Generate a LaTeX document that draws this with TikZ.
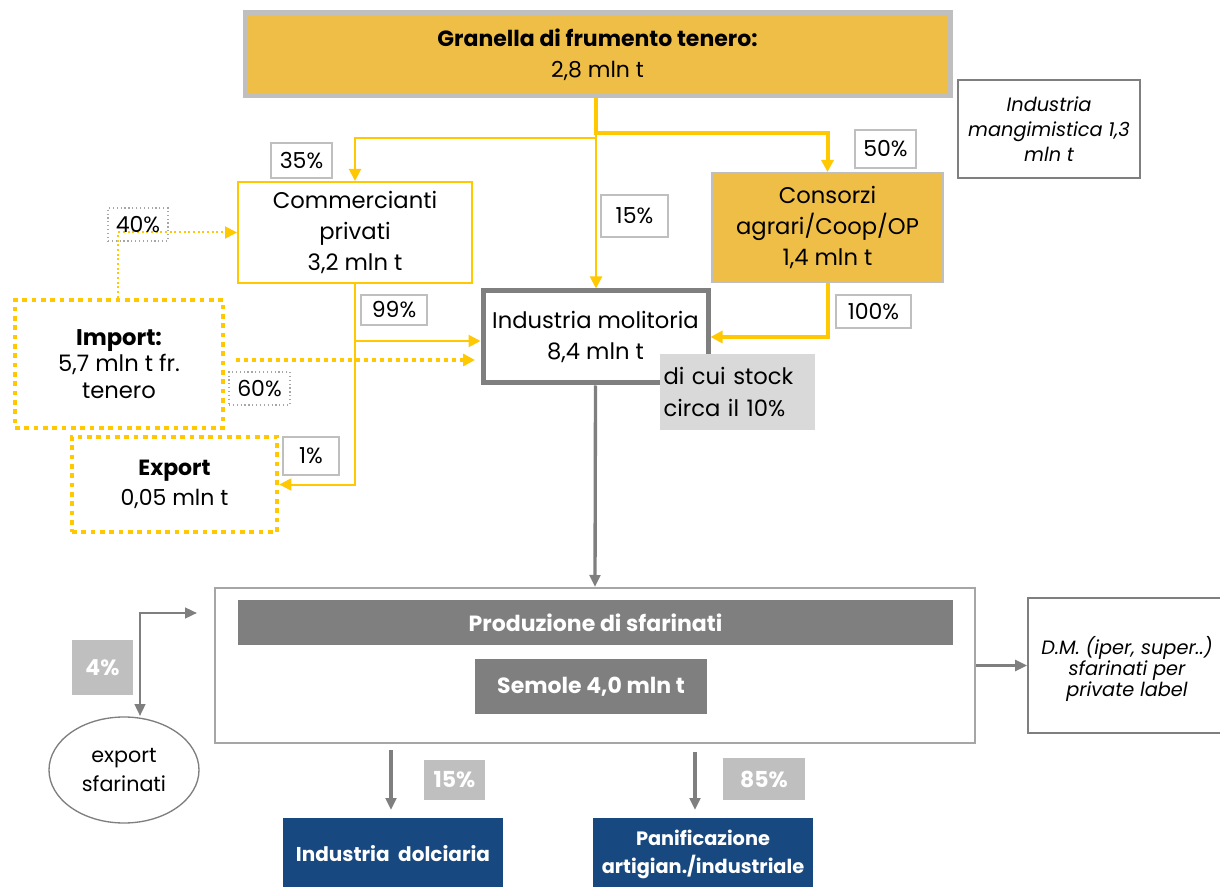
\documentclass[tikz,border=0pt]{standalone}
\usepackage{fontspec}
\setmainfont{Poppins}
\usetikzlibrary{arrows.meta,shapes.geometric,backgrounds}
\definecolor{gold}{HTML}{EFBE47}
\definecolor{yel}{HTML}{FFC800}
\definecolor{lgray}{HTML}{BFBFBF}
\definecolor{mgray}{HTML}{A6A6A6}
\definecolor{dgray}{HTML}{7F7F7F}
\definecolor{sgray}{HTML}{D9D9D9}
\definecolor{navy}{HTML}{17487F}
\newcommand\fz[2]{\fontsize{#1}{#2}\selectfont}
\tikzset{
  sz/.style 2 args={minimum width={#1*0.75pt}, minimum height={#2*0.75pt}},
  bx/.style={inner sep=0pt, align=center, font=\fz{17}{23}},
  pct/.style={draw=lgray, line width=1.5pt, fill=white, inner sep=0pt, font=\fz{16.5}{18}},
  dpct/.style={draw=gray!70, line width=0.9pt, dotted, inner sep=0pt, font=\fz{16.5}{18}},
  gpct/.style={fill=lgray, inner sep=0pt, text=white, font=\bfseries\fz{16.5}{18}},
  ytip/.style={-{Triangle[length=9pt,width=9pt]}},
  ythin/.style={draw=yel, line width=1.5pt, ytip},
  ythick/.style={draw=yel, line width=3pt, ytip},
  garr/.style={draw=dgray, line width=2.5pt, -{Triangle[length=9pt,width=8pt]}},
  ydotbox/.style={draw=yel, line width=3.5pt, dash pattern=on 3.5pt off 3.5pt, fill=white},
}
\begin{document}
\begin{tikzpicture}[x=0.75pt,y=-0.75pt]
\useasboundingbox (0,0) rectangle (1220,887);
\clip (0,0) rectangle (1220,887);

% nodes
\node[bx, sz={705}{83}, draw=lgray, line width=3.75pt, fill=gold, font=\fz{16.5}{23}] (gr) at (597.5,54.5)
  {\textbf{Granella di frumento tenero:}\\2,8 mln t};
\node[bx, sz={182}{98}, draw=dgray, line width=1.2pt, font=\itshape\fz{14.5}{18.75}] (mang) at (1049,129)
  {Industria\\mangimistica 1,3\\mln t};
\node[pct, sz={61}{35}] (p35) at (301.5,160.5) {35\%};
\node[bx, sz={234}{101}, draw=yel, line width=1.5pt, fill=white] (comm) at (355,232.5)
  {Commercianti\\privati\\3,2 mln t};
\node[pct, sz={67}{42}] (p15a) at (634.5,216) {15\%};
\node[pct, sz={61}{38}] (p50) at (885.5,149) {50\%};
\node[bx, sz={231}{109}, draw=lgray, line width=1.5pt, fill=gold] (cons) at (827.5,227.5)
  {Consorzi\\agrari/Coop/OP\\1,4 mln t};
\node[pct, sz={75}{33}] (p100) at (873.5,311.5) {100\%};
\node[bx, sz={225}{92}, draw=dgray, line width=3.75pt, fill=white] (mol) at (595.5,337)
  {Industria molitoria\\8,4 mln t};
\node[bx, sz={155}{76}, fill=sgray, align=left, text width={148*0.75pt}, font=\fz{17}{24}] (stock) at (737.5,392)
  {di cui stock\\circa il 10\%};
\node[pct, sz={66}{30}] (p99) at (394,310) {99\%};
\node[bx, sz={208}{128}, ydotbox, font=\fz{17}{20}] (imp) at (119,364)
  {\textbf{Import:}\\5,7 mln t fr.\\tenero};
\node[dpct, sz={60}{33}] (p40) at (138,224.5) {40\%};
\node[dpct, sz={61}{33}] (p60) at (259.5,388.5) {60\%};
\node[bx, sz={205}{95}, ydotbox, font=\fz{16.5}{22}] (exp) at (174.5,484.5)
  {\textbf{Export}\\0,05 mln t};
\node[pct, sz={56}{38}] (p1) at (311,456) {1\%};

\node[bx, sz={760}{155}, draw=mgray, line width=1.5pt, fill=white] (prod) at (595,665.5) {};
\node[bx, sz={715}{45}, fill=dgray, text=white, font=\bfseries\fz{16.5}{18}] (sfar) at (595.5,622.5) {Produzione di sfarinati};
\node[bx, sz={232}{55}, fill=dgray, text=white, font=\bfseries\fz{16.5}{18}] (sem) at (591,686.5) {Semole 4,0 mln t};
\node[bx, sz={212}{135}, draw=dgray, line width=1.2pt, fill=white] (dm) at (1134,665.5) {};
\node[bx, font=\itshape\fz{14.5}{16}] (dmt) at (1127,669) {D.M. (iper, super..)\\sfarinati per\\private label};
\node[gpct, sz={61}{55}] (p4) at (102.5,667.5) {4\%};
\node[bx, ellipse, sz={150}{106}, draw=dgray, line width=1pt, fill=white, font=\fz{15.5}{22}] (ell) at (124,770) {export\\sfarinati};
\node[gpct, sz={61}{40}] (p15b) at (454.5,780) {15\%};
\node[bx, sz={220}{72}, fill=navy, text=white, font=\bfseries\fz{15}{21}] (dol) at (393,854) {Industria\ \ dolciaria};
\node[gpct, sz={82}{42}] (p85) at (764,779) {85\%};
\node[bx, sz={220}{72}, fill=navy, text=white, font=\bfseries\fz{14.5}{21}] (pan) at (703,854) {Panificazione\\artigian./industriale};

% connectors
\begin{scope}[on background layer]
\coordinate (j1) at (596,133);
\coordinate (j2) at (596,138);
\coordinate (j3) at (355,341);
\draw[ythick] (gr.south -| j1) -- (j1) -| (cons.north);
\draw[ythin] (gr.south -| j1) -- (j1 |- mol.north);
\draw[ythin] (j2) -| (comm.north);
\draw[ythick] (cons.south) |- (mol.east);
\draw[ythin] (comm.south) |- (exp.east);
\draw[ythin] (j3) -- (j3 -| mol.west);
\draw[draw=yel, line width=1.5pt, dotted, ytip] (imp.north -| 118,0) |- (comm.west);
\coordinate (d1) at (236,360);
\coordinate (d2) at (475,360);
\draw[draw=yel, line width=3pt, dash pattern=on 3pt off 3pt, ytip] (d1) -- (d2);
\draw[garr] (mol.south) -- (prod.north);
\draw[garr] (prod.east) -- (dm.west);
\coordinate (e1) at (197,613);
\coordinate (e2) at (140,716);
\draw[draw=dgray, line width=1.8pt, {Triangle[length=9pt,width=8pt]}-{Triangle[length=9pt,width=8pt]}] (e1) -| (e2);
\coordinate (a1) at (391,750);
\coordinate (a2) at (695,752);
\draw[garr] (a1) -- (a1 |- 0,810);
\draw[garr] (a2) -- (a2 |- 0,810);
\end{scope}
\end{tikzpicture}
\end{document}
